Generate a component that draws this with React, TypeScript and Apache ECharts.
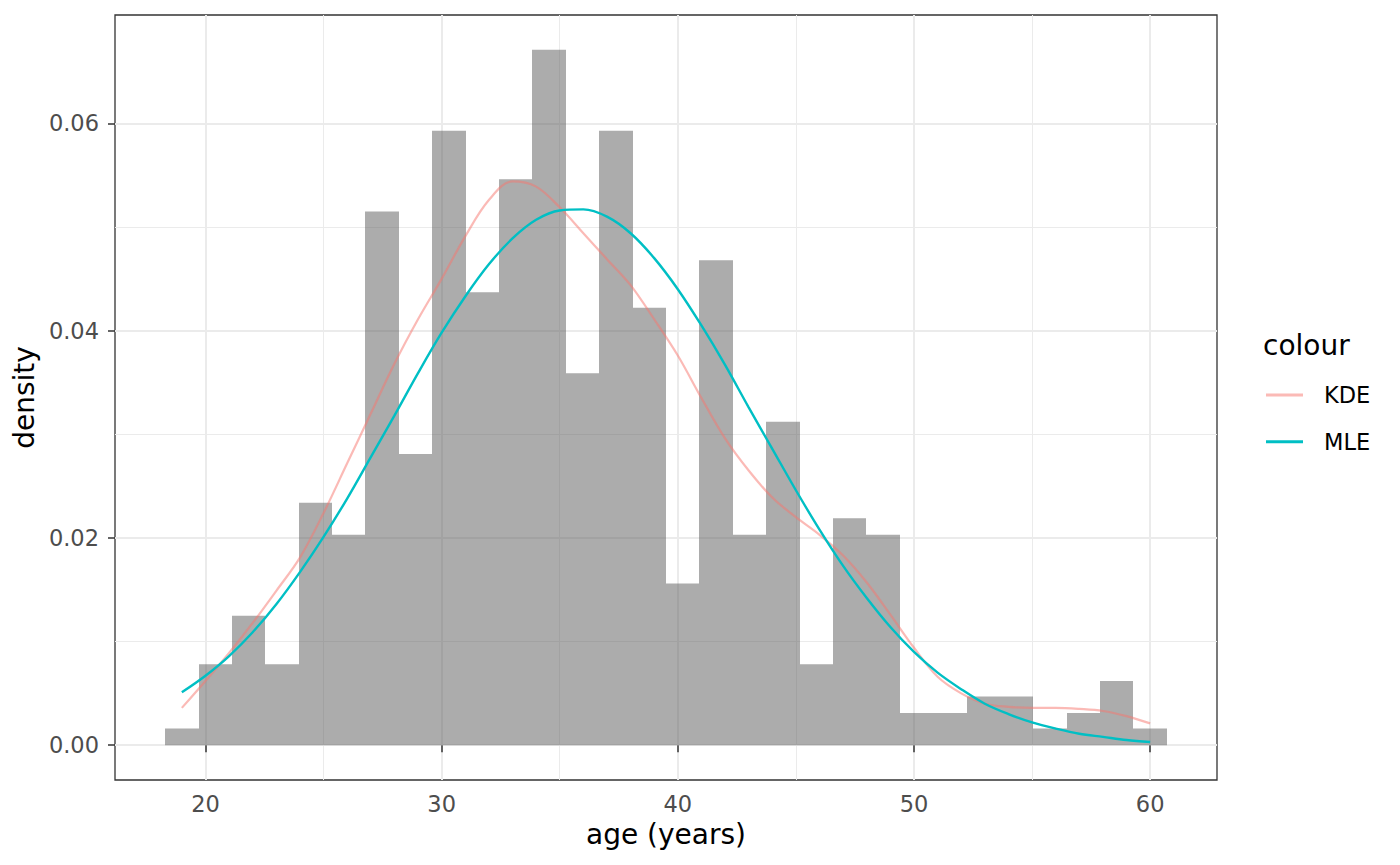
import React, { useEffect, useRef } from 'react'
import * as echarts from 'echarts'

// histogram: 30 bins (edges) and the density of each bin
const binEdges = [
  18.293, 19.707, 21.121, 22.534, 23.948, 25.362, 26.776, 28.19, 29.603, 31.017, 32.431,
  33.845, 35.259, 36.672, 38.086, 39.5, 40.914, 42.328, 43.741, 45.155, 46.569, 47.983,
  49.397, 50.81, 52.224, 53.638, 55.052, 56.466, 57.879, 59.293, 60.707,
]
const binDensity = [
  0.0016, 0.0078, 0.0125, 0.0078, 0.0234, 0.0203, 0.0515, 0.0281, 0.0593, 0.0437,
  0.0546, 0.0671, 0.0359, 0.0593, 0.0422, 0.0156, 0.0468, 0.0203, 0.0312, 0.0078,
  0.0219, 0.0203, 0.0031, 0.0031, 0.0047, 0.0047, 0.0016, 0.0031, 0.0062, 0.0016,
]

// density curves, read at each year from 19 to 60
const curveAges = [
  19, 20, 21, 22, 23, 24, 25, 26, 27, 28, 29, 30, 31, 32, 33, 34, 35, 36, 37, 38, 39,
  40, 41, 42, 43, 44, 45, 46, 47, 48, 49, 50, 51, 52, 53, 54, 55, 56, 57, 58, 59, 60,
]
const kdeDensity = [
  0.0036, 0.0062, 0.0089, 0.0118, 0.0149, 0.0181, 0.0224, 0.0272, 0.032, 0.0368, 0.0411,
  0.045, 0.0491, 0.0526, 0.0544, 0.0539, 0.0519, 0.0494, 0.0469, 0.0444, 0.0411, 0.0376,
  0.0335, 0.0296, 0.0265, 0.0239, 0.022, 0.0203, 0.0183, 0.0157, 0.0126, 0.0094, 0.0066,
  0.005, 0.004, 0.0037, 0.0036, 0.0036, 0.0035, 0.0033, 0.0028, 0.0021,
]
const mleDensity = [
  0.0051, 0.0067, 0.0086, 0.0109, 0.0136, 0.0167, 0.0201, 0.0238, 0.0278, 0.0318, 0.0359,
  0.0398, 0.0433, 0.0464, 0.0489, 0.0507, 0.0516, 0.0517, 0.051, 0.0494, 0.047, 0.044,
  0.0405, 0.0367, 0.0326, 0.0286, 0.0246, 0.0208, 0.0173, 0.0142, 0.0114, 0.009, 0.007,
  0.0054, 0.004, 0.003, 0.0022, 0.0016, 0.0011, 0.0008, 0.0005, 0.0003,
]

const xTicks = [20, 30, 40, 50, 60]
const xMinorTicks = [25, 35, 45, 55]
const yTicks = [0, 0.02, 0.04, 0.06]
const yMinorTicks = [0.01, 0.03, 0.05]

const FONT = 'DejaVu Sans'
const X_MIN = 16.17
const X_MAX = 62.83
const Y_MIN = -0.00336
const Y_MAX = 0.07046
const KDE_COLOR = 'rgba(248,118,109,0.5)'
const MLE_COLOR = '#00BFC4'

function App() {
  const chartRef = useRef(null)

  useEffect(() => {
    document.body.style.margin = '0'
    const chart = echarts.init(chartRef.current, null, { renderer: 'svg' })

    const bars = binDensity.map((d, i) => [binEdges[i], binEdges[i + 1], d])
    const kdeData = curveAges.map((a, i) => [a, kdeDensity[i]])
    const mleData = curveAges.map((a, i) => [a, mleDensity[i]])

    // hidden axes that only draw the minor grid lines
    const minorAxis = {
      type: 'value',
      axisLine: { show: false },
      axisLabel: { show: false },
      splitLine: { show: true, lineStyle: { color: '#ebebeb', width: 1 } },
    }

    const options = {
      animation: false,
      grid: {
        left: 115,
        top: 15,
        width: 1102,
        height: 765,
        show: true,
        borderColor: '#333333',
        borderWidth: 1.3,
        backgroundColor: 'transparent',
      },
      title: {
        text: 'colour',
        left: 1263,
        top: 331,
        padding: 0,
        textStyle: { fontSize: 28, fontWeight: 'normal', color: '#000', fontFamily: FONT, lineHeight: 28 },
      },
      legend: {
        data: ['KDE', 'MLE'],
        orient: 'vertical',
        left: 1266,
        top: 383,
        padding: 0,
        icon: 'rect',
        itemWidth: 37,
        itemHeight: 3,
        itemGap: 22.7,
        textStyle: { fontSize: 22.5, color: '#000', fontFamily: FONT, lineHeight: 24, padding: [0, 0, 0, 16] },
      },
      xAxis: [
        {
          type: 'value',
          min: X_MIN,
          max: X_MAX,
          position: 'bottom',
          axisLine: { show: false },
          axisTick: { show: true, customValues: xTicks, length: 7, lineStyle: { color: '#333333', width: 1.5 } },
          axisLabel: { customValues: xTicks, margin: 12, fontSize: 22.5, color: '#4d4d4d', fontFamily: FONT },
          splitLine: { show: true, lineStyle: { color: '#ebebeb', width: 2 } },
          name: 'age (years)',
          nameLocation: 'middle',
          nameGap: 40,
          nameTextStyle: { fontSize: 28, color: '#000', fontFamily: FONT, lineHeight: 28 },
        },
        {
          ...minorAxis,
          min: X_MIN,
          max: X_MAX,
          position: 'top',
          axisTick: { show: false, customValues: xMinorTicks },
        },
      ],
      yAxis: [
        {
          type: 'value',
          min: Y_MIN,
          max: Y_MAX,
          position: 'left',
          axisLine: { show: false },
          axisTick: { show: true, customValues: yTicks, length: 7, lineStyle: { color: '#333333', width: 1.5 } },
          axisLabel: {
            customValues: yTicks,
            margin: 16,
            fontSize: 22.5,
            color: '#4d4d4d',
            fontFamily: FONT,
            formatter: (v: number) => v.toFixed(2),
          },
          splitLine: { show: true, lineStyle: { color: '#ebebeb', width: 2 } },
          name: 'density',
          nameLocation: 'middle',
          nameGap: 75,
          nameTextStyle: { fontSize: 28, color: '#000', fontFamily: FONT, lineHeight: 28 },
        },
        {
          ...minorAxis,
          min: Y_MIN,
          max: Y_MAX,
          position: 'right',
          axisTick: { show: false, customValues: yMinorTicks },
        },
      ],
      series: [
        {
          type: 'custom',
          name: 'histogram',
          data: bars,
          encode: { x: [0, 1], y: 2 },
          silent: true,
          z: 1,
          renderItem: (params: any, api: any) => {
            const top = api.coord([api.value(0), api.value(2)])
            const bottom = api.coord([api.value(1), 0])
            const x0 = Math.round(top[0])
            const x1 = Math.round(bottom[0])
            return {
              type: 'rect',
              shape: { x: x0, y: top[1], width: x1 - x0, height: bottom[1] - top[1] },
              style: { fill: 'rgba(89,89,89,0.5)' },
            }
          },
        },
        {
          type: 'line',
          name: 'KDE',
          data: kdeData,
          showSymbol: false,
          smooth: 0.35,
          z: 3,
          lineStyle: { color: KDE_COLOR, width: 2.2 },
          itemStyle: { color: KDE_COLOR },
          emphasis: { disabled: true },
        },
        {
          type: 'line',
          name: 'MLE',
          data: mleData,
          showSymbol: false,
          smooth: 0.35,
          z: 4,
          lineStyle: { color: MLE_COLOR, width: 2.4 },
          itemStyle: { color: MLE_COLOR },
          emphasis: { disabled: true },
        },
      ],
    }

    chart.setOption(options)

    return () => {
      chart.dispose()
    }
  }, [])

  return <div ref={chartRef} style={{ width: '1400px', height: '865px' }}></div>
}

export default App
